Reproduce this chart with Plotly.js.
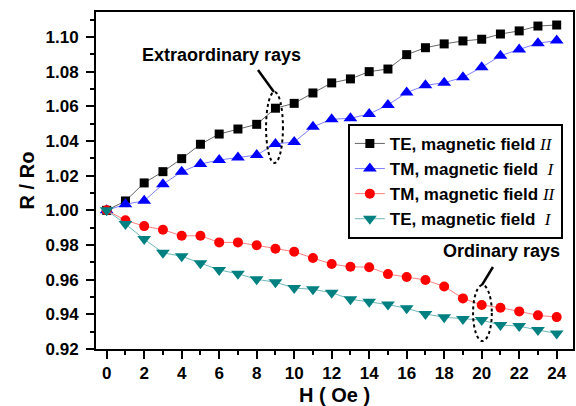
<!DOCTYPE html>
<html>
<head>
<meta charset="utf-8">
<script src="https://cdn.plot.ly/plotly-3.0.1.min.js"></script>
<style>html,body{margin:0;padding:0;background:#fff;}#chart{width:576px;height:406px;}</style>
</head>
<body>
<div id="chart"></div>
<script>
// H (Oe)
const fieldH = [0,1,2,3,4,5,6,7,8,9,10,11,12,13,14,15,16,17,18,19,20,21,22,23,24];
// R / Ro series
const teParallel = [1.000,1.0054,1.0158,1.0223,1.0298,1.0381,1.0440,1.0469,1.0496,1.0589,1.0617,1.0677,1.0735,1.0758,1.0800,1.0815,1.0898,1.0938,1.0960,1.0977,1.0987,1.1017,1.1035,1.1063,1.1069];
const tmPerp = [1.000,1.0035,1.0055,1.0150,1.0223,1.0267,1.0290,1.0304,1.0319,1.0383,1.0394,1.0482,1.0525,1.0531,1.0556,1.0608,1.0679,1.0721,1.0736,1.0767,1.0825,1.0892,1.0927,1.0964,1.0979];
const tmParallel = [1.000,0.9942,0.9909,0.9888,0.9853,0.9853,0.9815,0.9815,0.9798,0.9778,0.9761,0.9725,0.9690,0.9674,0.9672,0.9632,0.9615,0.9598,0.9561,0.9492,0.9454,0.9438,0.9417,0.9394,0.9384];
const tePerp = [1.000,0.9921,0.9834,0.9755,0.9735,0.9694,0.9656,0.9634,0.9602,0.9585,0.9552,0.9544,0.9525,0.9487,0.9473,0.9456,0.9435,0.9402,0.9383,0.9373,0.9367,0.9338,0.9332,0.9309,0.9290];
const seriesNames = [
  'TE, magnetic field <span style="font-family:Liberation Serif;font-style:italic;font-weight:normal">II</span>',
  'TM, magnetic field  <span style="font-family:Liberation Serif;font-style:italic;font-weight:normal">I</span>',
  'TM, magnetic field <span style="font-family:Liberation Serif;font-style:italic;font-weight:normal">II</span>',
  'TE, magnetic field  <span style="font-family:Liberation Serif;font-style:italic;font-weight:normal">I</span>'
];
const xTickVals = [0,2,4,6,8,10,12,14,16,18,20,22,24];
const yTickVals = [0.92,0.94,0.96,0.98,1.00,1.02,1.04,1.06,1.08,1.10];
// annotation groups
const extraEllipse = {x: 8.95, y: [1.0273, 1.0683], halfW: 0.45};
const ordEllipse = {x: 20.04, y: [0.9246, 0.9569], halfW: 0.5};

const FONT = 'Liberation Sans, Arial, sans-serif';

const traces = [
  {x: fieldH, y: teParallel, name: seriesNames[0], mode: 'lines+markers',
   line: {color: '#666666', width: 1}, marker: {symbol: 'square', size: 9, color: '#000000'}},
  {x: fieldH, y: tmPerp, name: seriesNames[1], mode: 'lines+markers',
   line: {color: '#8080ff', width: 1}, marker: {symbol: 'triangle-up', size: 12, color: '#0000ff'}},
  {x: fieldH, y: tmParallel, name: seriesNames[2], mode: 'lines+markers',
   line: {color: '#ff8080', width: 1}, marker: {symbol: 'circle', size: 10, color: '#ff0000'}},
  {x: fieldH, y: tePerp, name: seriesNames[3], mode: 'lines+markers',
   line: {color: '#70b8b8', width: 1}, marker: {symbol: 'triangle-down', size: 12, color: '#008080'}}
];

const layout = {
  width: 576, height: 406,
  margin: {l: 96, r: 3, t: 12, b: 57},
  paper_bgcolor: '#ffffff', plot_bgcolor: '#ffffff',
  font: {family: FONT, color: '#000', size: 17, weight: 'bold'},
  showlegend: true,
  legend: {x: 0.528, y: 0.668, xanchor: 'left', yanchor: 'top',
           bgcolor: '#ffffff', bordercolor: '#000', borderwidth: 2,
           font: {family: FONT, size: 17, weight: 'bold', color: '#000'},
           tracegroupgap: 0},
  xaxis: {range: [-0.57, 24.87], tickvals: xTickVals, ticktext: xTickVals.map(String),
          ticks: 'outside', ticklen: 8, tickwidth: 2, tickcolor: '#000',
          minor: {dtick: 1, ticks: 'outside', ticklen: 4, tickwidth: 2, tickcolor: '#000', showgrid: false},
          showline: true, linewidth: 2, linecolor: '#000', mirror: true,
          showgrid: false, zeroline: false,
          tickfont: {family: FONT, size: 17, weight: 'bold'},
          title: {text: 'H ( Oe )', font: {family: FONT, size: 20, weight: 'bold'}, standoff: 8}},
  yaxis: {range: [0.92, 1.1144], tickvals: yTickVals, ticktext: yTickVals.map(v => v.toFixed(2)),
          ticks: 'outside', ticklen: 8, tickwidth: 2, tickcolor: '#000',
          minor: {dtick: 0.01, tick0: 0.92, ticks: 'outside', ticklen: 4, tickwidth: 2, tickcolor: '#000', showgrid: false},
          showline: true, linewidth: 2, linecolor: '#000', mirror: true,
          showgrid: false, zeroline: false, ticklabelstandoff: 4,
          tickfont: {family: FONT, size: 17, weight: 'bold'},
          title: {text: 'R / Ro', font: {family: FONT, size: 20, weight: 'bold'}, standoff: 6}},
  shapes: [
    {type: 'circle', xref: 'x', yref: 'y',
     x0: extraEllipse.x - extraEllipse.halfW, x1: extraEllipse.x + extraEllipse.halfW,
     y0: extraEllipse.y[0], y1: extraEllipse.y[1],
     line: {color: '#000', width: 2, dash: 'dot'}},
    {type: 'circle', xref: 'x', yref: 'y',
     x0: ordEllipse.x - ordEllipse.halfW, x1: ordEllipse.x + ordEllipse.halfW,
     y0: ordEllipse.y[0], y1: ordEllipse.y[1],
     line: {color: '#000', width: 2, dash: 'dot'}},
    {type: 'line', xref: 'x', yref: 'y', x0: 8.07, y0: 1.081, x1: 8.92, y1: 1.0683,
     line: {color: '#000', width: 2.5}},
    {type: 'line', xref: 'x', yref: 'y', x0: 20.6, y0: 0.9673, x1: 20.01, y1: 0.9569,
     line: {color: '#000', width: 2.5}}
  ],
  annotations: [
    {text: 'Extraordinary rays', xref: 'x', yref: 'y', x: 6.1, y: 1.0896, showarrow: false,
     font: {family: FONT, size: 18, weight: 'bold', color: '#000'}},
    {text: 'Ordinary rays', xref: 'x', yref: 'y', x: 21.03, y: 0.9765, showarrow: false,
     font: {family: FONT, size: 18, weight: 'bold', color: '#000'}}
  ]
};

Plotly.newPlot('chart', traces, layout, {displayModeBar: false, staticPlot: true});
</script>
</body>
</html>
